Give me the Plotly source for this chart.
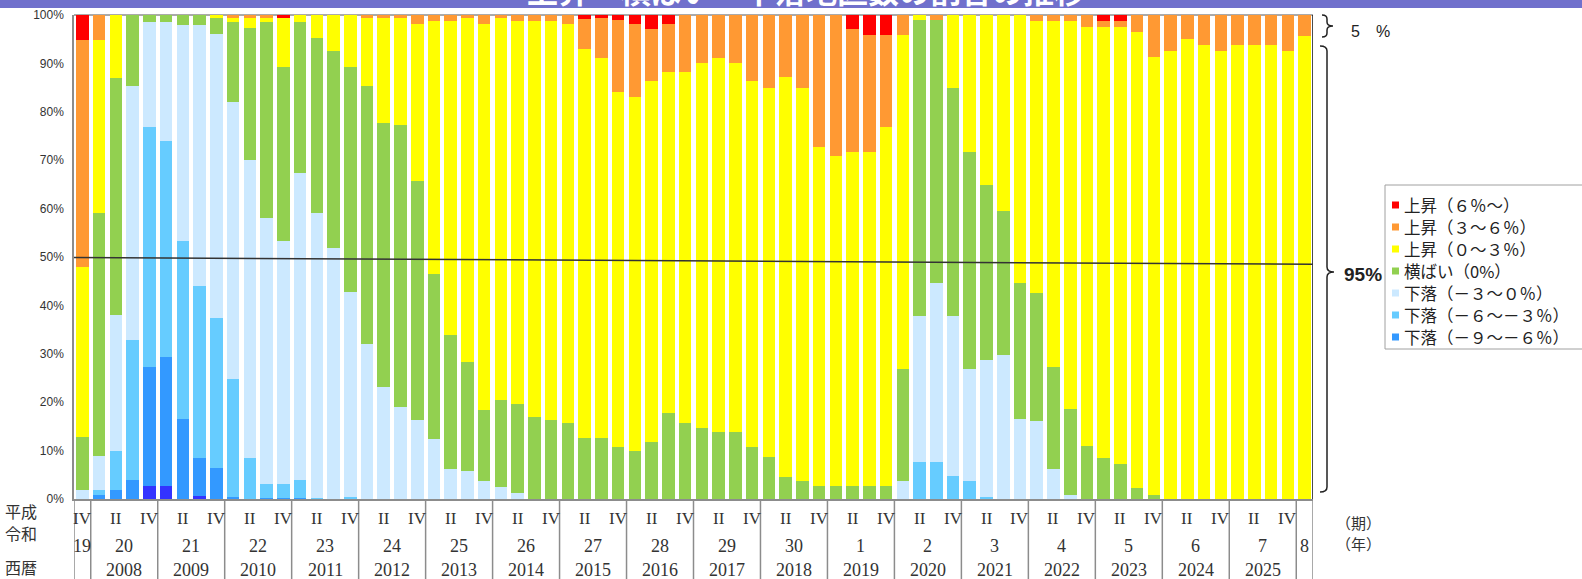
import plotly.graph_objects as go

# ---------------- data ----------------
quarters = (["2007Q4"]
            + [f"{y}Q{q}" for y in [2008, 2009, 2010, 2011, 2012, 2013, 2014, 2015, 2016,
                                    2017, 2018, 2019, 2020, 2021, 2022, 2023, 2024, 2025]
               for q in [1, 2, 3, 4]]
            + ["2026Q1"])

period_labels = ["IV"] + ["", "II", "", "IV"] * 18 + [""]
era_labels = ["19", "20", "21", "22", "23", "24", "25", "26", "27", "28", "29", "30",
              "1", "2", "3", "4", "5", "6", "7", "8"]
west_labels = ["", "2008", "2009", "2010", "2011", "2012", "2013", "2014", "2015", "2016",
               "2017", "2018", "2019", "2020", "2021", "2022", "2023", "2024", "2025", ""]
year_first_bar = [0, 1, 5, 9, 13, 17, 21, 25, 29, 33, 37, 41, 45, 49, 53, 57, 61, 65, 69, 73]
year_last_bar = [0, 4, 8, 12, 16, 20, 24, 28, 32, 36, 40, 44, 48, 52, 56, 60, 64, 68, 72, 73]

# shares (%) by bar, bottom -> top
fall_12_9 = [0, 0, 0, 0, 2.6, 2.6, 0, 0.6, 0, 0] + [0] * 64
fall_9_6 = [0, 0.9, 1.9, 3.9, 24.6, 26.7, 16.6, 7.9, 6.4, 0.5,
            0, 0.3, 0.3, 0.3] + [0] * 60
fall_6_3 = [0, 0.9, 8.1, 28.9, 49.6, 44.7, 36.7, 35.6, 30.9, 24.2,
            8.5, 2.8, 2.8, 3.7, 0.3, 0, 0.4, 0, 0, 0,
            0, 0, 0, 0, 0, 0, 0, 0, 0, 0,
            0, 0, 0, 0, 0, 0, 0, 0, 0, 0,
            0, 0, 0, 0, 0, 0, 0, 0, 0, 0,
            7.7, 7.7, 4.7, 3.7, 0.5, 0, 0, 0, 0, 0,
            0, 0, 0, 0, 0, 0, 0, 0, 0, 0,
            0, 0, 0, 0]
fall_3_0 = [1.9, 7.0, 28.0, 52.6, 21.8, 24.6, 44.6, 53.8, 58.7, 57.3,
            61.5, 54.9, 50.3, 63.4, 58.7, 51.9, 42.4, 32.0, 23.2, 19.1,
            16.4, 12.4, 6.3, 5.8, 3.7, 2.4, 1.2, 0, 0, 0,
            0, 0, 0, 0, 0, 0, 0, 0, 0, 0,
            0, 0, 0, 0, 0, 0, 0, 0, 0, 3.7,
            30.1, 37.0, 33.1, 23.1, 28.3, 29.7, 16.6, 16.1, 6.1, 0.8,
            0, 0, 0, 0, 0, 0, 0, 0, 0, 0,
            0, 0, 0, 0]
flat_0 = [10.9, 50.2, 49.0, 14.6, 1.4, 1.4, 2.1, 2.1, 3.4, 16.6,
          27.4, 40.6, 35.9, 31.2, 36.3, 40.7, 46.5, 53.3, 54.5, 58.1,
          49.4, 34.0, 27.5, 22.5, 14.7, 18.0, 18.5, 17.0, 16.3, 15.8,
          12.7, 12.7, 10.8, 9.9, 11.8, 17.7, 15.8, 14.7, 13.8, 13.8,
          10.8, 8.7, 4.6, 3.7, 2.7, 2.7, 2.7, 2.7, 2.7, 23.1,
          61.2, 54.3, 47.2, 44.9, 36.0, 29.9, 28.1, 26.4, 21.2, 17.8,
          10.9, 8.5, 7.2, 2.2, 0.8, 0, 0, 0, 0, 0,
          0, 0, 0, 0]
rise_0_3 = [35.1, 35.9, 13.0, 0, 0, 0, 0, 0, 0.6, 0.7,
            1.9, 0.7, 10.1, 1.4, 4.7, 7.4, 10.7, 14.0, 21.7, 22.2,
            32.3, 52.4, 65.0, 71.1, 79.7, 79.0, 79.1, 81.8, 82.5, 82.3,
            80.2, 78.5, 73.3, 73.1, 74.6, 70.5, 72.4, 75.4, 77.4, 76.3,
            75.6, 76.3, 82.6, 81.3, 70.0, 68.1, 69.0, 69.0, 74.1, 69.1,
            1.0, 0, 15.0, 28.3, 35.2, 40.4, 55.3, 56.3, 71.5, 80.2,
            86.7, 89.1, 90.4, 94.2, 90.6, 92.5, 95.0, 93.9, 92.5, 93.9,
            93.9, 93.9, 92.5, 95.7]
rise_3_6 = [47.0, 5.1, 0, 0, 0, 0, 0, 0, 0, 0.7,
            0.7, 0.7, 0, 0, 0, 0, 0, 0.7, 0.6, 0.6,
            1.9, 1.2, 1.2, 0.6, 1.9, 0.6, 1.2, 1.2, 1.2, 1.9,
            6.2, 8.1, 14.9, 15.2, 10.7, 10.0, 11.8, 9.9, 8.8, 9.9,
            13.6, 15.0, 12.8, 15.0, 27.3, 29.2, 25.4, 24.2, 19.1, 4.1,
            0, 1.0, 0, 0, 0, 0, 0, 1.2, 1.2, 1.2,
            2.4, 1.2, 1.2, 3.6, 8.6, 7.5, 5.0, 6.1, 7.5, 6.1,
            6.1, 6.1, 7.5, 4.3]
rise_6 = [5.1, 0, 0, 0, 0, 0, 0, 0, 0, 0,
          0, 0, 0.6, 0, 0, 0, 0, 0, 0, 0,
          0, 0, 0, 0, 0, 0, 0, 0, 0, 0,
          0.9, 0.7, 1.0, 1.8, 2.9, 1.8, 0, 0, 0, 0,
          0, 0, 0, 0, 0, 0, 2.9, 4.1, 4.1, 0,
          0, 0, 0, 0, 0, 0, 0, 0, 0, 0,
          0, 1.2, 1.2, 0, 0, 0, 0, 0, 0, 0,
          0, 0, 0, 0]

series_names = ["下落（－１２〜－９％）", "下落（－９〜－６％）", "下落（－６〜－３％）", "下落（－３〜０％）",
                "横ばい（0%）", "上昇（０〜３％）", "上昇（３〜６％）", "上昇（６％〜）"]
series_values = [fall_12_9, fall_9_6, fall_6_3, fall_3_0, flat_0, rise_0_3, rise_3_6, rise_6]
series_colors = ["#3333FF", "#3399FF", "#66CCFF", "#CCE9FF",
                 "#92D050", "#FFFF00", "#FF9933", "#FF0000"]
series_in_legend = [False, True, True, True, True, True, True, True]

ref_line_left, ref_line_right = 49.9, 48.5

# ---------------- geometry helpers (pixels -> paper) ----------------
W, H = 1582, 579
PL, PT, PW, PH = 74, 15, 1239, 484


def px(X):
    return (X - PL) / PW


def py(Y):
    return (PT + PH - Y) / PH


fig = go.Figure()
idx = list(range(len(quarters)))
for name, vals, col in zip(series_names, series_values, series_colors):
    fig.add_trace(go.Bar(x=idx, y=vals, name=name, marker=dict(color=col, line=dict(width=0)),
                         showlegend=False, customdata=quarters,
                         hovertemplate="%{customdata}: %{y}%<extra>" + name + "</extra>"))

shapes = []
annotations = []

# banner at the top
shapes.append(dict(type="rect", xref="paper", yref="paper", x0=px(-2), x1=px(W + 2), y0=py(-2), y1=py(8),
                   fillcolor="#7070CC", line=dict(width=0), layer="above"))
annotations.append(dict(text="<b>上昇・横ばい・下落地区数の割合の推移</b>", xref="paper", yref="paper",
                        x=px(806), y=py(-11), xanchor="center", yanchor="middle", showarrow=False,
                        font=dict(size=31, color="white", family="Noto Sans CJK JP")))

# plot frame
shapes.append(dict(type="line", xref="paper", yref="paper", x0=0, x1=1, y0=1, y1=1,
                   line=dict(color="#555555", width=1), layer="below"))
shapes.append(dict(type="line", xref="x", yref="paper", x0=73.5, x1=73.5, y0=0, y1=1,
                   line=dict(color="#111111", width=1.5), layer="above"))

# reference line near 50%
shapes.append(dict(type="line", xref="paper", yref="y", x0=0, x1=1, y0=ref_line_left, y1=ref_line_right,
                   line=dict(color="#333333", width=1.5), layer="above"))

# separators in the label area
sep_positions = [-0.5] + [f - 0.5 for f in year_first_bar[1:]] + [73.5]
for s in sep_positions:
    shapes.append(dict(type="line", xref="x", yref="paper", x0=s, x1=s, y0=0, y1=py(H + 5),
                       line=dict(color="#8C8C8C", width=1.5)))

# label rows
for i, lab in enumerate(period_labels):
    if lab:
        annotations.append(dict(text=lab, xref="x", yref="paper", x=i, y=py(518), showarrow=False,
                                xanchor="center", yanchor="middle",
                                font=dict(size=17, color="#333333", family="Liberation Serif")))
for k, lab in enumerate(era_labels):
    c = (year_first_bar[k] + year_last_bar[k]) / 2
    annotations.append(dict(text=lab, xref="x", yref="paper", x=c, y=py(546), showarrow=False,
                            xanchor="center", yanchor="middle",
                            font=dict(size=18, color="#333333", family="Liberation Serif")))
for k, lab in enumerate(west_labels):
    if lab:
        c = (year_first_bar[k] + year_last_bar[k]) / 2
        annotations.append(dict(text=lab, xref="x", yref="paper", x=c, y=py(570), showarrow=False,
                                xanchor="center", yanchor="middle",
                                font=dict(size=18, color="#333333", family="Liberation Serif")))

for txt, yy in [("平成", 511), ("令和", 533), ("西暦", 567)]:
    annotations.append(dict(text=txt, xref="paper", yref="paper", x=px(3), y=py(yy), showarrow=False,
                            xanchor="left", yanchor="middle",
                            font=dict(size=16, color="#333333", family="Noto Sans CJK JP")))
for txt, yy in [("（期）", 522), ("（年）", 543)]:
    annotations.append(dict(text=txt, xref="paper", yref="paper", x=px(1358), y=py(yy), showarrow=False,
                            xanchor="center", yanchor="middle",
                            font=dict(size=15, color="#333333", family="Noto Sans CJK JP")))


# braces on the right
def brace(x0, xm, xt, y0, ym, y1, r):
    return (f"M {px(x0)},{py(y0)} Q {px(xm)},{py(y0)} {px(xm)},{py(y0 + r)} "
            f"L {px(xm)},{py(ym - r)} Q {px(xm)},{py(ym)} {px(xt)},{py(ym)} "
            f"Q {px(xm)},{py(ym)} {px(xm)},{py(ym + r)} "
            f"L {px(xm)},{py(y1 - r)} Q {px(xm)},{py(y1)} {px(x0)},{py(y1)}")


shapes.append(dict(type="path", xref="paper", yref="paper", path=brace(1322, 1327, 1333, 15, 26, 37, 4),
                   line=dict(color="#222222", width=1.5)))
shapes.append(dict(type="path", xref="paper", yref="paper", path=brace(1320, 1327, 1334, 46, 272, 492, 5),
                   line=dict(color="#222222", width=1.5)))
annotations.append(dict(text="5　%", xref="paper", yref="paper", x=px(1370), y=py(31), showarrow=False,
                        xanchor="center", yanchor="middle",
                        font=dict(size=16, color="#222222", family="Liberation Sans")))
annotations.append(dict(text="<b>95%</b>", xref="paper", yref="paper", x=px(1363), y=py(274), showarrow=False,
                        xanchor="center", yanchor="middle",
                        font=dict(size=19, color="#222222", family="Liberation Sans")))

# legend (drawn box with small square keys)
leg_left, leg_top, leg_bottom = 1385, 185, 349
leg_rows = [205, 227, 249, 271, 293, 315, 337]
shapes.append(dict(type="rect", xref="paper", yref="paper", x0=px(leg_left), x1=px(W + 20),
                   y0=py(leg_top), y1=py(leg_bottom), fillcolor="white",
                   line=dict(color="#A0A0A0", width=1)))
legend_items = [(n, c) for n, c, s in zip(series_names, series_colors, series_in_legend) if s][::-1]
for (name, col), yy in zip(legend_items, leg_rows):
    shapes.append(dict(type="rect", xref="paper", yref="paper", x0=px(1392), x1=px(1399),
                       y0=py(yy - 3.5), y1=py(yy + 3.5), fillcolor=col, line=dict(width=0)))
    annotations.append(dict(text=name, xref="paper", yref="paper", x=px(1402), y=py(yy), showarrow=False,
                            xanchor="left", yanchor="middle",
                            font=dict(size=16.5, color="#222222", family="Noto Sans CJK JP")))

fig.update_layout(
    width=W, height=H,
    margin=dict(l=PL, r=W - PL - PW, t=PT, b=H - PT - PH, autoexpand=False),
    paper_bgcolor="white", plot_bgcolor="white",
    barmode="stack", bargap=0.25,
    shapes=shapes, annotations=annotations,
    showlegend=False,
    xaxis=dict(range=[-0.5, 73.5], showticklabels=False, ticks="", showgrid=False, zeroline=False,
               showline=True, linecolor="#8C8C8C", linewidth=1.5, fixedrange=True),
    yaxis=dict(range=[0, 100], tickvals=[0, 10, 20, 30, 40, 50, 60, 70, 80, 90, 100],
               ticktext=["0%", "10%", "20%", "30%", "40%", "50%", "60%", "70%", "80%", "90%", "100%"],
               showgrid=False, zeroline=False, showline=True, linecolor="#8C8C8C", linewidth=1.5,
               ticks="", ticklabelstandoff=6,
               tickfont=dict(size=12, color="#333333", family="Liberation Sans"), fixedrange=True),
)

fig.write_html("out.html", config={"displayModeBar": False},
               post_script="document.body.style.margin='0';document.body.style.overflow='hidden';")
